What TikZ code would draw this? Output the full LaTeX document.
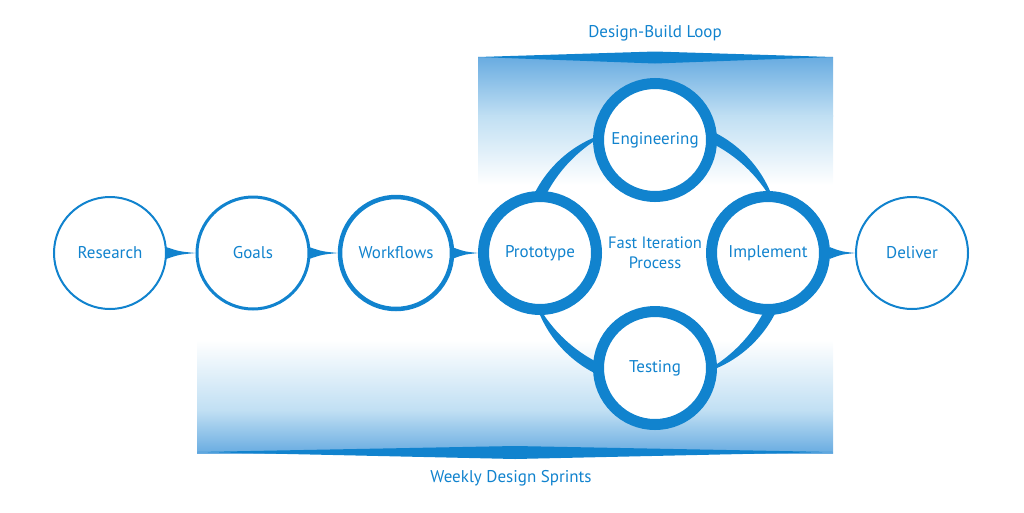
\documentclass[tikz,border=0pt]{standalone}
\usepackage{fontspec}
\setmainfont{PT Sans}
\usetikzlibrary{calc}
\definecolor{mblue}{RGB}{17,131,206}
\definecolor{gblue}{RGB}{105,172,225}
\definecolor{gmid}{RGB}{192,223,243}
% width along the crescent: w = 0.6 + 10.4*(1-s^2), s = (t-a)/(b-a)
\newcommand\crescent[2]{%
  \fill[mblue] plot[domain=#1:#2,samples=60,variable=\t]
    ({655+(129+(0.6+10.4*(1-((\t-(#1))/((#2)-(#1)))^2))/2)*cos(\t)},{253-(129+(0.6+10.4*(1-((\t-(#1))/((#2)-(#1)))^2))/2)*sin(\t)})
    -- plot[domain=#2:#1,samples=60,variable=\t]
    ({655+(129-(0.6+10.4*(1-((\t-(#1))/((#2)-(#1)))^2))/2)*cos(\t)},{253-(129-(0.6+10.4*(1-((\t-(#1))/((#2)-(#1)))^2))/2)*sin(\t)})
    -- cycle;}
\newcommand\flowwedge[4]{%
  \path ($(#1.east)+(#3,0)$) coordinate (ws) ($(#2.west)+(#4,0)$) coordinate (wt);
  \fill[mblue] ($(ws)+(0,-6)$) .. controls ($(ws)!0.45!(wt)+(0,-1.5)$) .. (wt)
    .. controls ($(ws)!0.45!(wt)+(0,1.5)$) .. ($(ws)+(0,6)$) -- cycle;}
\begin{document}
\begin{tikzpicture}[x=1pt,y=-1pt,
  lbl/.style={text=mblue,font=\fontsize{17}{20}\selectfont,align=center},
  thinc/.style={circle,draw=mblue,fill=white,minimum size=112pt,inner sep=0pt,outer sep=0pt,lbl},
  ringc/.style={circle,draw=mblue,fill=white,line width=11pt,minimum size=113pt,inner sep=0pt,outer sep=0pt,lbl},
]
\useasboundingbox (0,0) rectangle (1024,512);
% background gradients
\shade[top color=gblue,bottom color=gmid] (478,57) rectangle (833,116);
\shade[top color=gmid,bottom color=white] (478,115.5) rectangle (833,185);
\shade[top color=white,bottom color=gmid] (197,340) rectangle (833,411);
\shade[top color=gmid,bottom color=gblue] (197,410.5) rectangle (833,453);
\fill[mblue] (478,57) -- (655,51.5) -- (833,57) -- (655,63.5) -- cycle;
\fill[mblue] (197,452) -- (515,446) -- (833,452) -- (515,459) -- cycle;
% loop crescents
\crescent{158}{112}
\crescent{68}{22}
\crescent{-22}{-68}
\crescent{-112}{-158}
% nodes
\node[thinc,line width=2pt] (research) at (110,253) {Research};
\node[thinc,line width=3pt] (goals) at (253,253) {Goals};
\node[thinc,line width=4.5pt] (workflows) at (396,253) {Workflows};
\node[ringc] (prototype) at (540,253) {Prototype};
\node[ringc] (engineering) at (655,140) {Engineering};
\node[ringc] (implement) at (768,253) {Implement};
\node[ringc] (testing) at (655,368) {Testing};
\node[thinc,line width=2pt] (deliver) at (912,253) {Deliver};
\node[lbl,font=\fontsize{16.5}{20}\selectfont] (fast) at (655,253) {Fast Iteration\\Process};
\node[lbl] (loop) at (655,33) {Design-Build Loop};
\node[lbl] (sprints) at (511,478) {Weekly Design Sprints};
% flow wedges
\flowwedge{research}{goals}{0}{-1}
\flowwedge{goals}{workflows}{0}{-1.5}
\flowwedge{workflows}{prototype}{0}{-5}
\flowwedge{implement}{deliver}{5}{-0.5}
\end{tikzpicture}
\end{document}
